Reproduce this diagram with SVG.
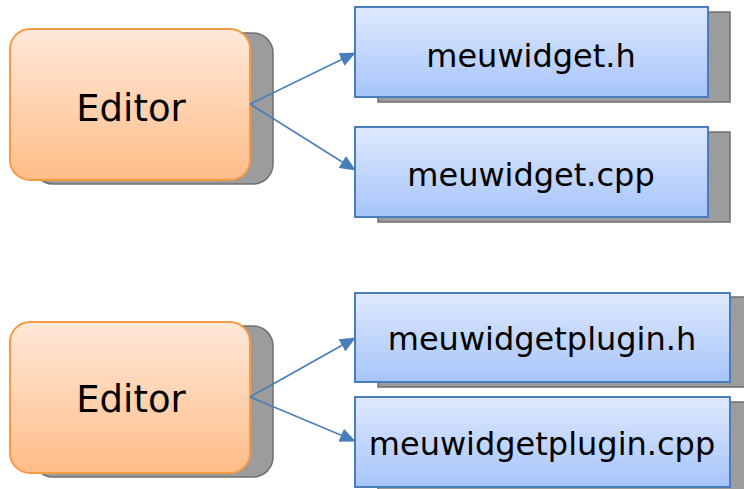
<svg xmlns="http://www.w3.org/2000/svg" width="744" height="489" viewBox="0 0 744 489">
  <defs>
    <linearGradient id="gOrange" x1="0" y1="0" x2="0" y2="1">
      <stop offset="0" stop-color="#ffe8d9"/>
      <stop offset="1" stop-color="#ffbd88"/>
    </linearGradient>
    <linearGradient id="gBlue" x1="0" y1="0" x2="0" y2="1">
      <stop offset="0" stop-color="#dfe9fd"/>
      <stop offset="1" stop-color="#a6c4fa"/>
    </linearGradient>
    <marker id="arrow" markerWidth="16" markerHeight="14" refX="15" refY="7" orient="auto" markerUnits="userSpaceOnUse">
      <path d="M0,0 L16,7 L0,14 Z" fill="#4a7ebb"/>
    </marker>
  </defs>
  <style>
    .shadow { fill: #9c9c9c; stroke: #6f6f6f; stroke-width: 1.5; }
    .editor { fill: url(#gOrange); stroke: #f79a45; stroke-width: 2; }
    .file { fill: url(#gBlue); stroke: #4a7ebb; stroke-width: 2; }
    .lbl { font-family: "DejaVu Sans", sans-serif; fill: #000; text-anchor: middle; }
    .big { font-size: 37px; }
    .small { font-size: 32px; }
    .conn { fill: none; stroke: #4a7ebb; stroke-width: 1.6; marker-end: url(#arrow); }
  </style>

  <g id="editor1">
    <rect class="shadow" x="33" y="33" width="240" height="151" rx="20"/>
    <rect class="editor" x="10" y="29" width="240" height="151" rx="20"/>
    <text class="lbl big" x="131" y="120.5">Editor</text>
  </g>

  <g id="editor2">
    <rect class="shadow" x="33" y="326" width="240" height="151" rx="20"/>
    <rect class="editor" x="10" y="322" width="240" height="151" rx="20"/>
    <text class="lbl big" x="131" y="411.5">Editor</text>
  </g>

  <g id="meuwidget-h">
    <rect class="shadow" x="378" y="12" width="352" height="90"/>
    <rect class="file" x="355" y="7" width="353" height="90"/>
    <text class="lbl small" x="531" y="66.5">meuwidget.h</text>
  </g>

  <g id="meuwidget-cpp">
    <rect class="shadow" x="378" y="132" width="352" height="90"/>
    <rect class="file" x="355" y="127" width="353" height="90"/>
    <text class="lbl small" x="531" y="185.5">meuwidget.cpp</text>
  </g>

  <g id="meuwidgetplugin-h">
    <rect class="shadow" x="378" y="297" width="372" height="90"/>
    <rect class="file" x="355" y="293" width="375" height="89"/>
    <text class="lbl small" x="542" y="350">meuwidgetplugin.h</text>
  </g>

  <g id="meuwidgetplugin-cpp">
    <rect class="shadow" x="378" y="402" width="372" height="90"/>
    <rect class="file" x="355" y="397" width="375" height="90"/>
    <text class="lbl small" x="542" y="455">meuwidgetplugin.cpp</text>
  </g>

  <!-- connectors drawn last so they sit over the node shadows -->
  <g id="connectors">
    <line class="conn" x1="250" y1="104" x2="355" y2="53"/>
    <line class="conn" x1="250" y1="104" x2="355" y2="170"/>
    <line class="conn" x1="250" y1="397" x2="355" y2="338"/>
    <line class="conn" x1="250" y1="397" x2="355" y2="441"/>
  </g>
</svg>
